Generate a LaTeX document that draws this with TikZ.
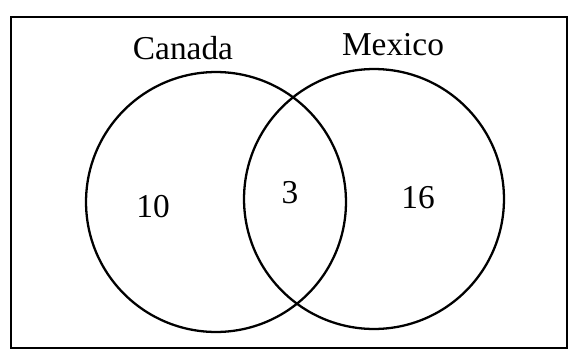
\documentclass[tikz,border=0pt]{standalone}
\usepackage{fontspec}
\setmainfont{Liberation Serif}
\usetikzlibrary{positioning}

\begin{document}
\begin{tikzpicture}[
        x=0.02cm, y=-0.02cm,
        set/.style={circle, draw=black, line width=1.3pt, minimum size=5.2cm, inner sep=0pt},
        setlabel/.style={font=\fontsize{19}{22}\selectfont, inner sep=0pt},
        count/.style={font=\fontsize{19}{22}\selectfont, inner sep=0pt}
    ]
        \useasboundingbox (0,0) rectangle (575,352);
        \node[draw=black, line width=1.4pt, minimum width=11.12cm, minimum height=6.62cm, anchor=north west] (frame) at (10,16) {};

        \node[set] (canada) at (216,202) {};
        \node[set] (mexico) at (374,199) {};

        \node[setlabel] (canadalbl) at (183,48) {Canada};
        \node[setlabel] (mexicolbl) at (393,45) {Mexico};

        \node[count] (onlyc) at (153,207) {10};
        \node[count] (both) at (290,193) {3};
        \node[count] (onlym) at (418,198) {16};
    \end{tikzpicture}
\end{document}
